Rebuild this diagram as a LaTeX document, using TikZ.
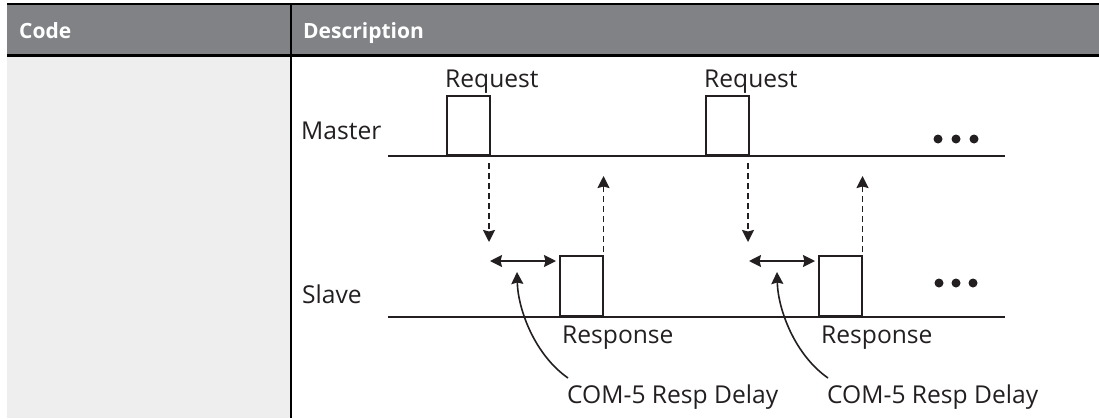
\documentclass[tikz,border=0pt]{standalone}
\usepackage{fontspec}
\setmainfont{Open Sans}
\usetikzlibrary{arrows.meta}
\definecolor{hdrgray}{HTML}{808285}
\definecolor{cellgray}{HTML}{EEEEEE}
\definecolor{ink}{HTML}{231F20}
\tikzset{
  hdrtext/.style={font=\bfseries\fontsize{21}{23}\selectfont, text=white, inner sep=0pt, anchor=base west},
  lbl/.style={font=\fontsize{24.6}{28}\selectfont, text=ink, inner sep=0pt, anchor=base west},
  timeline/.style={draw=ink, line width=2.6pt},
  pulse/.style={draw=ink, line width=2pt, fill=white, minimum width=43pt, minimum height=60pt, inner sep=0pt, anchor=south west},
  dasharrow/.style={draw=ink, line width=1.9pt, dash pattern=on 6pt off 4pt, -{Stealth[length=12pt,width=12pt,inset=1.5pt]}},
  delayarrow/.style={draw=ink, line width=1.8pt, {Stealth[length=12pt,width=12pt,inset=1.5pt]}-{Stealth[length=12pt,width=12pt,inset=1.5pt]}},
  curvearrow/.style={draw=ink, line width=1.6pt, -{Stealth[length=12pt,width=12pt,inset=1.5pt]}},
  dot/.style={circle, fill=ink, inner sep=0pt, minimum size=9pt}
}
\begin{document}
\begin{tikzpicture}[x=1pt,y=-1pt]
\useasboundingbox (0,0) rectangle (1099,418);
% table frame
\fill[hdrgray] (7,4) rectangle (1099,55.5);
\fill[cellgray] (7,55.5) rectangle (290,418);
\draw[black, line width=2.5pt] (7,4) -- (1099,4);
\draw[black, line width=3pt] (7,55.5) -- (1099,55.5);
\draw[black, line width=2.4pt] (291,4) -- (291,418);
\node[hdrtext] (code) at (19,38.3) {Code};
\node[hdrtext] (desc) at (303,38.8) {Description};
% lane labels
\node[lbl] (master) at (301,139.5) {Master};
\node[lbl] (slave) at (302,303) {Slave};
% timelines
\coordinate (m0) at (388,156);
\coordinate (m1) at (1005,156);
\coordinate (s0) at (388,317);
\coordinate (s1) at (1005,317);
% pulses
\node[pulse, minimum height=59pt] (req1) at (446,156) {};
\node[pulse, minimum height=59pt] (req2) at (705,156) {};
\node[pulse] (resp1) at (559,317) {};
\node[pulse] (resp2) at (818,317) {};
\draw[timeline] (m0) -- (m1);
\draw[timeline] (s0) -- (s1);
% labels of pulses
\node[lbl] (reqlbl1) at (445,87) {Request};
\node[lbl] (reqlbl2) at (704,87) {Request};
\node[lbl] (resplbl1) at (562,343) {Response};
\node[lbl] (resplbl2) at (821,343) {Response};
% dots
\node[dot] (md1) at (938,139) {};
\node[dot] (md2) at (956,139) {};
\node[dot] (md3) at (974,139) {};
\node[dot] (sd1) at (939,283) {};
\node[dot] (sd2) at (956,283) {};
\node[dot] (sd3) at (973,283) {};
% request -> slave dashed arrows
\coordinate (ds1) at (489,163);
\coordinate (ds2) at (748,163);
\coordinate (dn1) at (489,242);
\coordinate (dn2) at (748,242);
\draw[dasharrow] (ds1) -- (dn1);
\draw[dasharrow] (ds2) -- (dn2);
% response -> master dashed arrows
\coordinate (us1) at (603.5,252);
\coordinate (us2) at (862.5,252);
\coordinate (up1) at (603.5,176);
\coordinate (up2) at (862.5,176);
\draw[dasharrow] (us1) -- (up1);
\draw[dasharrow] (us2) -- (up2);
% delay double arrows
\coordinate (da1) at (490,261);
\coordinate (db1) at (556,261);
\coordinate (da2) at (749,261);
\coordinate (db2) at (815,261);
\draw[delayarrow] (da1) -- (db1);
\draw[delayarrow] (da2) -- (db2);
% COM-5 labels and curved pointers
\node[lbl] (com1) at (567,403) {COM-5 Resp Delay};
\node[lbl] (com2) at (827,403) {COM-5 Resp Delay};
\coordinate (cs1) at (568,378);
\coordinate (cs2) at (828,378);
\coordinate (ct1) at (517,272);
\coordinate (ct2) at (777,272);
\draw[curvearrow] (cs1) .. controls (535,355) and (518,310) .. (ct1);
\draw[curvearrow] (cs2) .. controls (795,355) and (778,310) .. (ct2);
\end{tikzpicture}
\end{document}
